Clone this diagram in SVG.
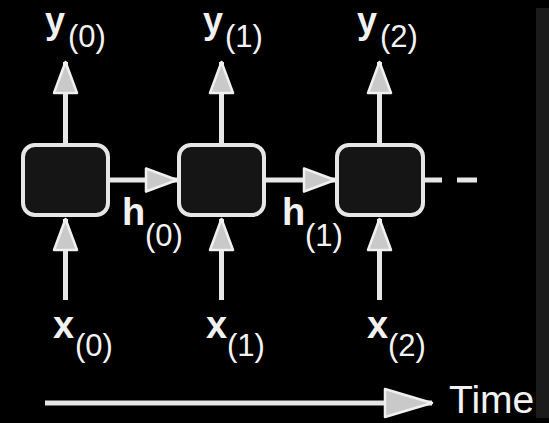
<svg xmlns="http://www.w3.org/2000/svg" width="549" height="423" viewBox="0 0 549 423">
<style>
.bg{fill:#000}
.strip{fill:#1b1b1b}
.cell{fill:#151515;stroke:#e6e6e6;stroke-width:4}
.wire{stroke:#e6e6e6;stroke-width:5;fill:none}
.lbl{font-family:"Liberation Sans",Arial,sans-serif;fill:#f2f2f2}
.main{font-weight:bold;font-size:38px}
.ymain{font-weight:bold;font-size:36px}
.sub{font-size:31px}
.time{font-size:39px}
</style>
<defs>
<marker id="ah" markerUnits="userSpaceOnUse" markerWidth="36" markerHeight="28" viewBox="0 0 36 28" refX="33" refY="14" orient="auto">
<path d="M2,2.5 L33,14 L2,25.5 Z" fill="#c9c9c9" stroke="#f0f0f0" stroke-width="2.5" stroke-linejoin="round"/>
</marker>
<marker id="ahBig" markerUnits="userSpaceOnUse" markerWidth="52" markerHeight="34" viewBox="0 0 52 34" refX="49" refY="17" orient="auto">
<path d="M2,3 L49,17 L2,31 Z" fill="#c9c9c9" stroke="#f0f0f0" stroke-width="2.5" stroke-linejoin="round"/>
</marker>
</defs>
<rect class="bg" x="0" y="0" width="549" height="423"/>
<rect class="strip" x="536" y="8" width="13" height="410"/>
<g id="connectors">
<line class="wire" x1="65.5" y1="143" x2="65.5" y2="62" marker-end="url(#ah)"/>
<line class="wire" x1="221.5" y1="143" x2="221.5" y2="62" marker-end="url(#ah)"/>
<line class="wire" x1="379.5" y1="143" x2="379.5" y2="62" marker-end="url(#ah)"/>
<line class="wire" x1="65.5" y1="300" x2="65.5" y2="219" marker-end="url(#ah)"/>
<line class="wire" x1="221.5" y1="300" x2="221.5" y2="219" marker-end="url(#ah)"/>
<line class="wire" x1="379.5" y1="300" x2="379.5" y2="219" marker-end="url(#ah)"/>
<line class="wire" x1="109" y1="180" x2="177" y2="180" marker-end="url(#ah)"/>
<line class="wire" x1="266" y1="180" x2="335" y2="180" marker-end="url(#ah)"/>
<line class="wire" x1="425" y1="180" x2="442" y2="180"/>
<line class="wire" x1="457" y1="180" x2="477" y2="180"/>
<line class="wire" x1="45" y1="403" x2="432" y2="403" marker-end="url(#ahBig)"/>
</g>
<g id="cell0"><rect class="cell" x="23" y="145" width="85" height="70" rx="12"/></g>
<g id="cell1"><rect class="cell" x="179" y="145" width="85" height="70" rx="12"/></g>
<g id="cell2"><rect class="cell" x="337" y="145" width="86" height="70" rx="12"/></g>
<g id="y0"><text class="lbl"><tspan class="ymain" x="45" y="32.5">y</tspan><tspan class="sub" x="68" y="47">(0)</tspan></text></g>
<g id="y1"><text class="lbl"><tspan class="ymain" x="203" y="32.5">y</tspan><tspan class="sub" x="225" y="47">(1)</tspan></text></g>
<g id="y2"><text class="lbl"><tspan class="ymain" x="357" y="32.5">y</tspan><tspan class="sub" x="380" y="47">(2)</tspan></text></g>
<g id="h0"><text class="lbl"><tspan class="main" x="122" y="225">h</tspan><tspan class="sub" x="145" y="246">(0)</tspan></text></g>
<g id="h1"><text class="lbl"><tspan class="main" x="282" y="225">h</tspan><tspan class="sub" x="305" y="246">(1)</tspan></text></g>
<g id="x0"><text class="lbl"><tspan class="main" x="53" y="338">x</tspan><tspan class="sub" x="75" y="356">(0)</tspan></text></g>
<g id="x1"><text class="lbl"><tspan class="main" x="206" y="338">x</tspan><tspan class="sub" x="227" y="356">(1)</tspan></text></g>
<g id="x2"><text class="lbl"><tspan class="main" x="367" y="338">x</tspan><tspan class="sub" x="388" y="356">(2)</tspan></text></g>
<g id="time"><text class="lbl time" x="449" y="413">Time</text></g>
</svg>
